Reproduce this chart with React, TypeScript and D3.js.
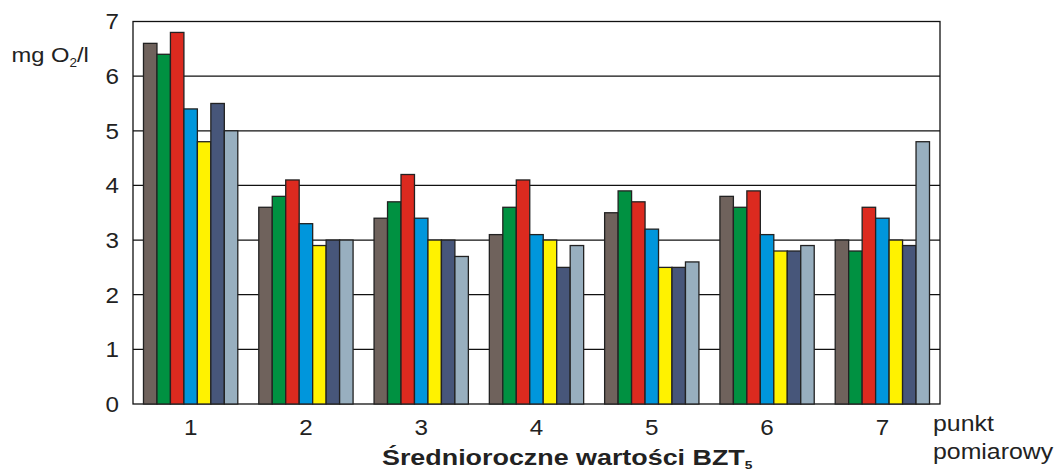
import React from "react";
import * as d3 from "d3";

const categories = ["1", "2", "3", "4", "5", "6", "7"];
const seriesColors = ["#6f625c", "#009141", "#dc2a1f", "#0096dc", "#fff200", "#47567a", "#98afbf"];
const values: number[][] = [
  [6.6, 6.4, 6.8, 5.4, 4.8, 5.5, 5.0],
  [3.6, 3.8, 4.1, 3.3, 2.9, 3.0, 3.0],
  [3.4, 3.7, 4.2, 3.4, 3.0, 3.0, 2.7],
  [3.1, 3.6, 4.1, 3.1, 3.0, 2.5, 2.9],
  [3.5, 3.9, 3.7, 3.2, 2.5, 2.5, 2.6],
  [3.8, 3.6, 3.9, 3.1, 2.8, 2.8, 2.9],
  [3.0, 2.8, 3.6, 3.4, 3.0, 2.9, 4.8],
];
const yTicks = [0, 1, 2, 3, 4, 5, 6, 7];

const W = 1060, H = 471;
const left = 133, right = 940, top = 21.5, bottom = 404;

export default function App() {
  const x = d3.scaleBand<string>().domain(categories).range([left, right]).paddingInner(0.182).paddingOuter(0.091);
  const xi = d3.scaleBand<number>().domain(d3.range(7)).range([0, x.bandwidth()]);
  const y = d3.scaleLinear().domain([0, 7]).range([bottom, top]);
  const font = "'Liberation Sans', Arial, sans-serif";
  return (
    <svg width={W} height={H} style={{ position: "absolute", left: 0, top: 0 }} fontFamily={font}>
      <rect x={0} y={0} width={W} height={H} fill="#fff" />
      {yTicks.filter(t => t > 0 && t < 7).map(t => (
        <line key={t} x1={left} x2={right} y1={y(t)} y2={y(t)} stroke="#111" strokeWidth={1.2} />
      ))}
      <rect x={left} y={top} width={right - left} height={bottom - top} fill="none" stroke="#111" strokeWidth={1.3} />
      {values.map((row, ci) => (
        <g key={ci} transform={`translate(${x(categories[ci])},0)`}>
          {row.map((v, si) => (
            <rect key={si} x={xi(si)} y={y(v)} width={xi.bandwidth()} height={y(0) - y(v)}
              fill={seriesColors[si]} stroke="#222" strokeWidth={1.3} />
          ))}
        </g>
      ))}
      {yTicks.map(t => (
        <text key={t} transform={`translate(119,${y(t)}) scale(1.1,1)`} dy="0.36em" textAnchor="end" fontSize={22} fill="#222">{t}</text>
      ))}
      {categories.map(c => (
        <text key={c} transform={`translate(${(x(c) as number) + x.bandwidth() / 2},435) scale(1.1,1)`} textAnchor="middle" fontSize={22} fill="#222">{c}</text>
      ))}
      <text transform="translate(11.5,62) scale(1.13,1)" fontSize={21} fill="#222">mg O<tspan fontSize={12} dy={5}>2</tspan><tspan dy={-5}>/l</tspan></text>
      <text transform="translate(933,431) scale(1.13,1)" fontSize={22} fill="#222">punkt</text>
      <text transform="translate(933,459) scale(1.13,1)" fontSize={22} fill="#222">pomiarowy</text>
      <text transform="translate(382,465) scale(1.25,1)" fontSize={21.5} fontWeight="bold" fill="#222">Średnioroczne wartości BZT<tspan fontSize={11} dy={3.5}>5</tspan></text>
    </svg>
  );
}
